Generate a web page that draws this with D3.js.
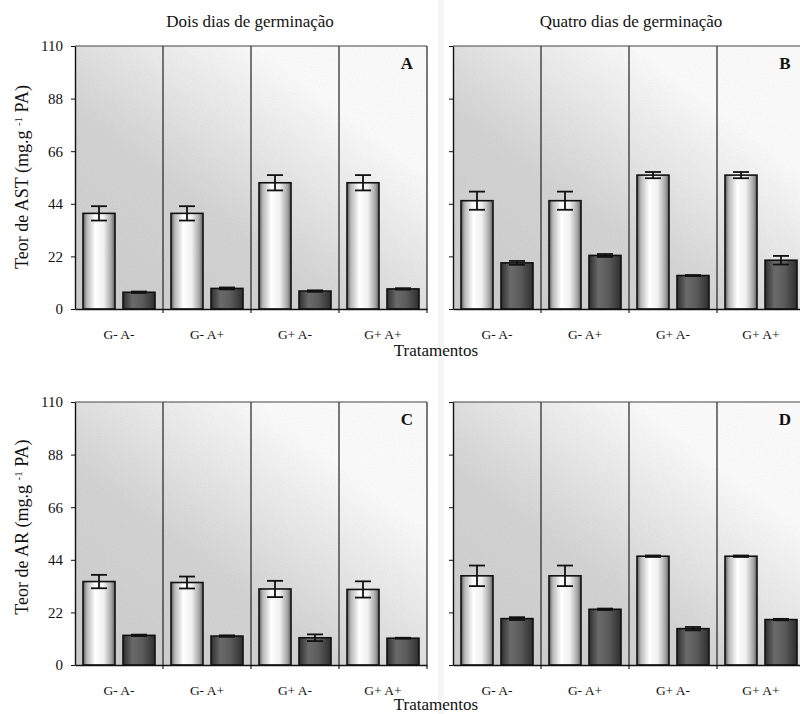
<!DOCTYPE html>
<html lang="pt">
<head>
<meta charset="utf-8">
<title>Teor de AST e AR</title>
<script src="https://d3js.org/d3.v7.min.js"></script>
<style>
  body { margin: 0; background: #fff; }
  svg { display: block; }
  text { font-family: "Liberation Serif", "Times New Roman", serif; }
</style>
</head>
<body>
<script>
// categories and tick labels
var categories = ["G- A-", "G- A+", "G+ A-", "G+ A+"];
var yTicks = [0, 22, 44, 66, 88, 110];
var panelLetters = ["A", "B", "C", "D"];
var colTitles = ["Dois dias de germinação", "Quatro dias de germinação"];

// values (light bar / dark bar, with error)
var astDois     = [40.0, 40.0, 52.8, 52.8];
var astDoisErr  = [3.0, 3.0, 3.2, 3.2];
var astDoisB    = [7.0, 8.6, 7.5, 8.4];
var astDoisBErr = [0.3, 0.4, 0.3, 0.3];

var astQuatro     = [45.3, 45.3, 56.0, 56.0];
var astQuatroErr  = [3.8, 3.8, 1.3, 1.3];
var astQuatroB    = [19.3, 22.4, 14.0, 20.4];
var astQuatroBErr = [0.8, 0.6, 0.2, 1.8];

var arDois     = [34.9, 34.5, 31.8, 31.6];
var arDoisErr  = [2.8, 2.5, 3.4, 3.4];
var arDoisB    = [12.4, 12.1, 11.4, 11.2];
var arDoisBErr = [0.3, 0.3, 1.4, 0.2];

var arQuatro     = [37.3, 37.3, 45.5, 45.5];
var arQuatroErr  = [4.3, 4.3, 0.3, 0.3];
var arQuatroB    = [19.4, 23.3, 15.2, 19.0];
var arQuatroBErr = [0.6, 0.3, 0.7, 0.3];

var w = 800, h = 714;
var serif = "Liberation Serif, Times New Roman, serif";

var svg = d3.select("body").append("svg")
  .attr("width", w)
  .attr("height", h)
  .attr("font-family", serif);

var defs = svg.append("defs");

// background wash: grey at lower left fading to white at upper right
var bg = defs.append("linearGradient").attr("id", "bgGrad")
  .attr("x1", 0).attr("y1", 1).attr("x2", 1).attr("y2", 0);
[[0, "#d0d0d0"], [0.38, "#d7d7d7"], [0.6, "#eeeeee"], [0.76, "#ffffff"], [1, "#ffffff"]]
  .forEach(function(s) { bg.append("stop").attr("offset", s[0]).attr("stop-color", s[1]); });

// speckle texture like the scan
var f = defs.append("filter").attr("id", "grain")
  .attr("x", 0).attr("y", 0).attr("width", 1).attr("height", 1);
f.append("feTurbulence").attr("type", "fractalNoise")
  .attr("baseFrequency", 0.9).attr("numOctaves", 1).attr("seed", 3).attr("result", "n");
f.append("feColorMatrix").attr("in", "n").attr("type", "matrix")
  .attr("values", "0 0 0 0 0  0 0 0 0 0  0 0 0 0 0  0 0 0 0.12 0").attr("result", "g");
f.append("feComposite").attr("in", "g").attr("in2", "SourceGraphic").attr("operator", "in").attr("result", "gm");
var fm = f.append("feMerge");
fm.append("feMergeNode").attr("in", "SourceGraphic");
fm.append("feMergeNode").attr("in", "gm");

// cylinder-like shading for the bars
var lg = defs.append("linearGradient").attr("id", "lightBar");
[[0, "#5a5a5a"], [0.12, "#b8b8b8"], [0.38, "#ffffff"], [0.65, "#f0f0f0"], [0.88, "#a8a8a8"], [1, "#606060"]]
  .forEach(function(s) { lg.append("stop").attr("offset", s[0]).attr("stop-color", s[1]); });
var dg = defs.append("linearGradient").attr("id", "darkBar");
[[0, "#2e2e2e"], [0.3, "#6a6a6a"], [0.6, "#5c5c5c"], [1, "#2e2e2e"]]
  .forEach(function(s) { dg.append("stop").attr("offset", s[0]).attr("stop-color", s[1]); });

var panels = [
  { x0: 75,  y0: 46,  light: astDois,   lErr: astDoisErr,   dark: astDoisB,   dErr: astDoisBErr,   labels: true },
  { x0: 453, y0: 46,  light: astQuatro, lErr: astQuatroErr, dark: astQuatroB, dErr: astQuatroBErr, labels: false },
  { x0: 75,  y0: 402, light: arDois,    lErr: arDoisErr,    dark: arDoisB,    dErr: arDoisBErr,    labels: true },
  { x0: 453, y0: 402, light: arQuatro,  lErr: arQuatroErr,  dark: arQuatroB,  dErr: arQuatroBErr,  labels: false }
];
var pw = 352, ph = 263;

var x = d3.scaleBand().domain(categories).range([0, pw]).padding(0);
var xs = d3.scaleBand().domain(["light", "dark"]).range([0, x.bandwidth()])
  .paddingInner(0.2).paddingOuter(0.2);
var y = d3.scaleLinear().domain([0, 110]).range([ph, 0]);

panels.forEach(function(p, i) {
  var g = svg.append("g").attr("transform", "translate(" + p.x0 + "," + p.y0 + ")");

  g.append("rect").attr("width", pw).attr("height", ph)
    .attr("fill", "url(#bgGrad)").attr("filter", "url(#grain)");

  // section dividers (run a bit below the axis as ticks)
  g.selectAll(".div").data(categories.slice(1).concat(["end"]))
    .enter().append("line")
    .attr("x1", function(d) { return d === "end" ? pw : x(d); })
    .attr("x2", function(d) { return d === "end" ? pw : x(d); })
    .attr("y1", 0).attr("y2", ph + 4)
    .attr("stroke", "#222").attr("stroke-width", 1.2);

  g.append("line").attr("x1", 0).attr("x2", pw).attr("y1", 0).attr("y2", 0)
    .attr("stroke", "#444").attr("stroke-width", 1.2);

  var data = categories.map(function(c, k) {
    return [
      { cat: c, key: "light", v: p.light[k], e: p.lErr[k] },
      { cat: c, key: "dark", v: p.dark[k], e: p.dErr[k] }
    ];
  }).flat();

  g.selectAll(".bar").data(data).enter().append("rect")
    .attr("x", function(d) { return x(d.cat) + xs(d.key); })
    .attr("y", function(d) { return y(d.v); })
    .attr("width", xs.bandwidth())
    .attr("height", function(d) { return ph - y(d.v); })
    .attr("fill", function(d) { return d.key === "light" ? "url(#lightBar)" : "url(#darkBar)"; })
    .attr("stroke", "#111").attr("stroke-width", 1.6);

  // error bars
  var eb = g.selectAll(".err").data(data).enter().append("g")
    .attr("stroke", "#111").attr("stroke-width", 1.8);
  var cx = function(d) { return x(d.cat) + xs(d.key) + xs.bandwidth() / 2; };
  eb.append("line")
    .attr("x1", cx).attr("x2", cx)
    .attr("y1", function(d) { return y(d.v + d.e); })
    .attr("y2", function(d) { return y(d.v - d.e); });
  eb.append("line")
    .attr("x1", function(d) { return cx(d) - 8; }).attr("x2", function(d) { return cx(d) + 8; })
    .attr("y1", function(d) { return y(d.v + d.e); }).attr("y2", function(d) { return y(d.v + d.e); });
  eb.append("line")
    .attr("x1", function(d) { return cx(d) - 8; }).attr("x2", function(d) { return cx(d) + 8; })
    .attr("y1", function(d) { return y(d.v - d.e); }).attr("y2", function(d) { return y(d.v - d.e); });

  // axes
  var ay = g.append("g").call(d3.axisLeft(y).tickValues(yTicks).tickSize(4).tickSizeOuter(0)
    .tickFormat(p.labels ? d3.format("d") : ""));
  ay.attr("font-family", serif);
  ay.select(".domain").attr("stroke", "#111").attr("stroke-width", 1.4);
  ay.selectAll(".tick line").attr("stroke", "#111");
  ay.selectAll("text").attr("font-size", 15).attr("fill", "#111").attr("dx", -5);

  var ax = g.append("g").attr("transform", "translate(0," + ph + ")")
    .call(d3.axisBottom(x).tickSize(0).tickPadding(20));
  ax.attr("font-family", serif);
  ax.select(".domain").attr("stroke", "#111").attr("stroke-width", 1.4);
  ax.selectAll("text").attr("font-size", 13.5).attr("fill", "#111");

  g.append("text").attr("x", pw - 20).attr("y", 23)
    .attr("text-anchor", "middle").attr("font-size", 17).attr("font-weight", "bold")
    .attr("fill", "#111").text(panelLetters[i]);
});

// faint scanner stripe
svg.append("rect").attr("x", 438).attr("y", 0).attr("width", 6).attr("height", h)
  .attr("fill", "#e2e2e2").attr("opacity", 0.35);

// column titles
svg.selectAll(".coltitle").data(colTitles).enter().append("text")
  .attr("x", function(d, i) { return i === 0 ? 250 : 631; })
  .attr("y", 27).attr("text-anchor", "middle")
  .attr("font-size", 17).attr("fill", "#111").text(function(d) { return d; });

// x titles
[356, 710].forEach(function(yy) {
  svg.append("text").attr("x", 436).attr("y", yy).attr("text-anchor", "middle")
    .attr("font-size", 17).attr("fill", "#111").text("Tratamentos");
});

// y titles
[["Teor de AST (mg.g ", 177], ["Teor de AR (mg.g ", 527]].forEach(function(t) {
  var tx = svg.append("text")
    .attr("transform", "translate(28," + t[1] + ") rotate(-90)")
    .attr("text-anchor", "middle").attr("font-size", 18).attr("fill", "#111");
  tx.append("tspan").text(t[0]);
  tx.append("tspan").attr("baseline-shift", "super").attr("font-size", 11).text("-1");
  tx.append("tspan").text(" PA)");
});
</script>
</body>
</html>
